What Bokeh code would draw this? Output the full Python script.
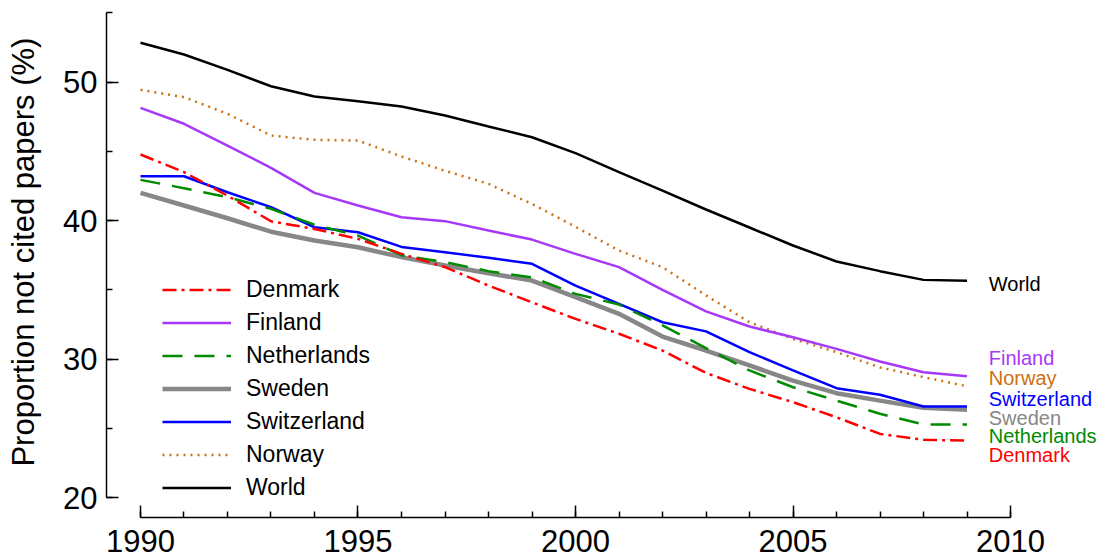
from bokeh.plotting import figure
from bokeh.models import Range1d, SingleIntervalTicker, Legend, LegendItem
from bokeh.embed import file_html
from bokeh.resources import INLINE
from bokeh.core.properties import value

years = list(range(1990, 2010))

denmark = [44.77, 43.5, 41.8, 39.95, 39.4, 38.68, 37.6, 36.64, 35.31, 34.1,
           32.9, 31.83, 30.62, 29.0, 27.85, 26.89, 25.8, 24.6, 24.17, 24.12]
finland = [48.14, 46.99, 45.42, 43.81, 42.0, 41.09, 40.24, 39.96, 39.28, 38.63,
           37.6, 36.64, 35.0, 33.45, 32.35, 31.58, 30.74, 29.83, 29.05, 28.77]
netherlands = [42.94, 42.34, 41.69, 40.85, 39.7, 38.92, 37.5, 37.0, 36.35, 35.9,
               34.71, 33.94, 32.43, 30.8, 29.18, 27.97, 27.0, 26.05, 25.28, 25.28]
sweden = [42.0, 41.09, 40.17, 39.2, 38.56, 38.08, 37.36, 36.76, 36.2, 35.67,
          34.47, 33.27, 31.63, 30.62, 29.54, 28.45, 27.54, 27.0, 26.48, 26.34]
switzerland = [43.2, 43.2, 42.05, 40.97, 39.52, 39.16, 38.1, 37.72, 37.31, 36.88,
               35.31, 33.99, 32.66, 32.0, 30.5, 29.18, 27.9, 27.42, 26.58, 26.58]
norway = [49.44, 48.91, 47.71, 46.14, 45.83, 45.78, 44.63, 43.6, 42.65, 41.2,
          39.55, 37.84, 36.64, 34.6, 32.66, 31.46, 30.5, 29.4, 28.7, 28.04]
world = [52.84, 51.99, 50.88, 49.7, 48.96, 48.62, 48.24, 47.59, 46.79, 46.02,
         44.87, 43.5, 42.17, 40.8, 39.5, 38.2, 37.05, 36.35, 35.72, 35.65]

legend_names = ["Denmark", "Finland", "Netherlands", "Sweden", "Switzerland", "Norway", "World"]

# right-hand end labels (top to bottom)
end_label_names = ["World", "Finland", "Norway", "Switzerland", "Sweden", "Netherlands", "Denmark"]
end_label_y = [35.45, 30.05, 28.6, 27.15, 25.75, 24.45, 23.05]

y_label = "Proportion not cited papers (%)"

FONT = "Liberation Sans"

styles = {
    "Denmark": dict(color="#FF0000", width=2.5, dash="14 5 3 5"),
    "Finland": dict(color="#A838F8", width=2.5, dash="solid"),
    "Netherlands": dict(color="#008B00", width=2.5, dash="20 12"),
    "Sweden": dict(color="#878787", width=4.5, dash="solid"),
    "Switzerland": dict(color="#0000FF", width=2.5, dash="solid"),
    "Norway": dict(color="#CD7012", width=2.5, dash="2 5"),
    "World": dict(color="#000000", width=2.5, dash="solid"),
}
data = {"Denmark": denmark, "Finland": finland, "Netherlands": netherlands,
        "Sweden": sweden, "Switzerland": switzerland, "Norway": norway, "World": world}

p = figure(width=1107, height=558, output_backend="svg", toolbar_location=None,
           title=None,
           x_range=Range1d(1989.2184, 2012.1609), y_range=Range1d(18.563, 55.025),
           min_border_left=106, min_border_right=3, min_border_top=12, min_border_bottom=41)
p.xgrid.visible = False
p.ygrid.visible = False
p.outline_line_color = None
p.background_fill_color = "white"
p.border_fill_color = "white"

ya = p.yaxis[0]
ya.ticker = SingleIntervalTicker(interval=10, num_minor_ticks=2)
ya.bounds = (20, 55)
ya.major_tick_in = 12
ya.major_tick_out = 0
ya.minor_tick_in = 6
ya.minor_tick_out = 0
ya.major_label_standoff = 9
# leading no-break spaces nudge the centred label up along the axis, as in the original
ya.axis_label = "\u00a0\u00a0\u00a0" + y_label
ya.axis_label_standoff = 19
ya.axis_label_text_font = FONT
ya.axis_label_text_font_size = "31px"
ya.axis_label_text_font_style = "normal"
ya.axis_label_text_color = "black"
ya.major_label_text_font = FONT
ya.major_label_text_font_size = "31px"
ya.major_label_text_color = "black"
ya.axis_line_width = 1.5
ya.major_tick_line_width = 1.5
ya.minor_tick_line_width = 1.5
ya.axis_line_color = "black"
ya.major_tick_line_color = "black"
ya.minor_tick_line_color = "black"

xa = p.xaxis[0]
xa.ticker = SingleIntervalTicker(interval=5, num_minor_ticks=5)
xa.bounds = (1990, 2010)
xa.major_tick_in = 12
xa.major_tick_out = 0
xa.minor_tick_in = 6
xa.minor_tick_out = 0
xa.major_label_standoff = 12
xa.major_label_text_font = FONT
xa.major_label_text_font_size = "31px"
xa.major_label_text_color = "black"
xa.axis_line_width = 1.5
xa.major_tick_line_width = 1.5
xa.minor_tick_line_width = 1.5
xa.axis_line_color = "black"
xa.major_tick_line_color = "black"
xa.minor_tick_line_color = "black"

draw_order = ["Sweden", "Norway", "Finland", "Switzerland", "Netherlands", "Denmark", "World"]
renderers = {}
for name in draw_order:
    st = styles[name]
    renderers[name] = p.line(years, data[name], line_color=st["color"], line_width=st["width"],
                             line_dash=st["dash"])

legend = Legend(items=[LegendItem(label=n, renderers=[renderers[n]]) for n in legend_names],
                location=(56, 13), orientation="vertical")
legend.glyph_width = 69
legend.glyph_height = 33
legend.label_height = 33
legend.spacing = 0
legend.padding = 0
legend.margin = 0
legend.label_standoff = 15
legend.label_text_font = FONT
legend.label_text_font_size = "23px"
legend.label_text_color = "black"
legend.border_line_color = None
legend.background_fill_alpha = 0
p.add_layout(legend)

label_x = [years[-1] + 0.5] * len(end_label_names)
p.text(x=label_x, y=end_label_y, text=end_label_names,
       text_color=[styles[n]["color"] for n in end_label_names],
       text_font=value(FONT), text_font_size="20px",
       text_baseline="middle", text_align="left")

open("out.html", "w").write(file_html(p, INLINE))
